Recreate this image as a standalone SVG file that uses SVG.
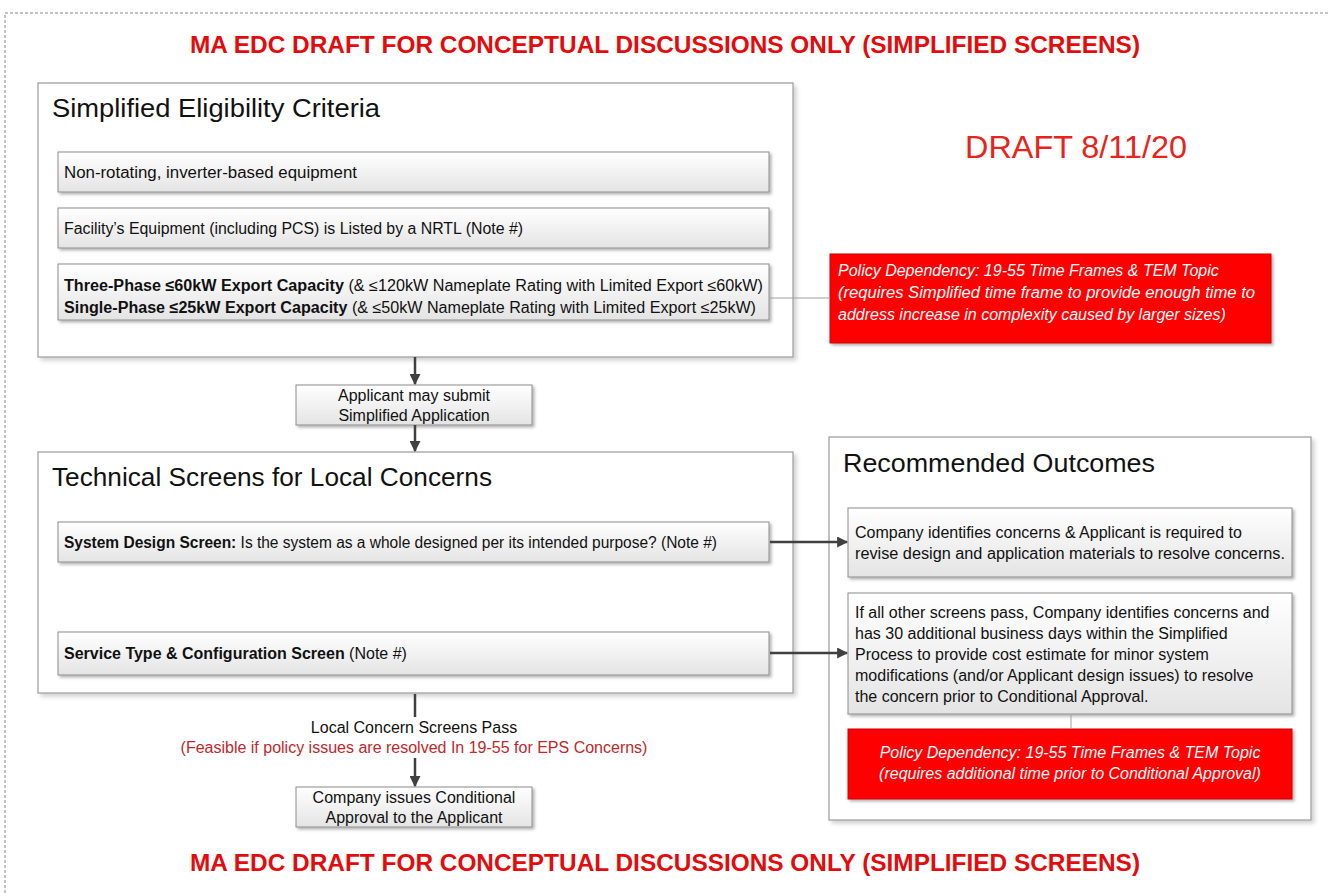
<svg xmlns="http://www.w3.org/2000/svg" width="1329" height="893" viewBox="0 0 1329 893">
<defs>
<linearGradient id="g" x1="0" y1="0" x2="0" y2="1">
<stop offset="0" stop-color="#ffffff"/>
<stop offset="1" stop-color="#e4e4e4"/>
</linearGradient>
<filter id="sh" x="-5%" y="-5%" width="110%" height="130%">
<feDropShadow dx="2" dy="2" stdDeviation="1.5" flood-color="#000" flood-opacity="0.3"/>
</filter>
<filter id="sh2" x="-5%" y="-5%" width="110%" height="110%">
<feDropShadow dx="3" dy="3" stdDeviation="2" flood-color="#000" flood-opacity="0.18"/>
</filter>
<marker id="ah" viewBox="0 0 10 10" refX="9" refY="5" markerWidth="11" markerHeight="11" markerUnits="userSpaceOnUse" orient="auto">
<path d="M0,0 L10,5 L0,10 z" fill="#404040"/>
</marker>
</defs>
<style>
text{font-family:"Liberation Sans",Arial,sans-serif;fill:#111}
.ttl{font-weight:bold;font-size:24px;fill:#e30b0b}
.outer{fill:#fff;stroke:#9a9a9a;stroke-width:1.2;filter:url(#sh2)}
.inner{fill:url(#g);stroke:#8c8c8c;stroke-width:1;filter:url(#sh)}
.red{fill:#ff0000;stroke:#cc0000;stroke-width:1;filter:url(#sh)}
.h{font-size:26px}
.t{font-size:16px}
.c{font-size:16px;text-anchor:middle}
.w{font-size:16px;fill:#fff;font-style:italic}
.b{font-weight:bold}
.arrow{stroke:#404040;stroke-width:2.5;fill:none;marker-end:url(#ah)}
.line{stroke:#404040;stroke-width:2.5;fill:none}
.thin{stroke:#a0a0a0;stroke-width:1;fill:none}
</style>
<path d="M5,893 V13 H1329" fill="none" stroke="#888" stroke-width="1" stroke-dasharray="3,2"/>
<text class="ttl" x="190" y="53" textLength="950" lengthAdjust="spacingAndGlyphs">MA EDC DRAFT FOR CONCEPTUAL DISCUSSIONS ONLY (SIMPLIFIED SCREENS)</text>
<text class="ttl" x="190" y="871" textLength="950" lengthAdjust="spacingAndGlyphs">MA EDC DRAFT FOR CONCEPTUAL DISCUSSIONS ONLY (SIMPLIFIED SCREENS)</text>
<text x="965" y="158" style="font-size:32px;fill:#e8231b" textLength="222" lengthAdjust="spacingAndGlyphs">DRAFT 8/11/20</text>

<g id="eligibility">
<rect class="outer" x="38" y="83" width="755" height="274"/>
<text class="h" x="52" y="117" textLength="328" lengthAdjust="spacingAndGlyphs">Simplified Eligibility Criteria</text>
</g>
<g id="non-rotating">
<rect class="inner" x="58" y="152" width="711" height="40"/>
<text class="t" x="64" y="178" textLength="293" lengthAdjust="spacingAndGlyphs">Non-rotating, inverter-based equipment</text>
</g>
<g id="listed">
<rect class="inner" x="58" y="208" width="711" height="40"/>
<text class="t" x="64" y="234" textLength="459" lengthAdjust="spacingAndGlyphs">Facility’s Equipment (including PCS) is Listed by a NRTL (Note #)</text>
</g>
<g id="capacity">
<rect class="inner" x="58" y="264" width="711" height="56"/>
<text class="t" x="64" y="291" textLength="699" lengthAdjust="spacingAndGlyphs"><tspan class="b">Three-Phase ≤60kW Export Capacity</tspan> (&amp; ≤120kW Nameplate Rating with Limited Export ≤60kW)</text>
<text class="t" x="64" y="313" textLength="692" lengthAdjust="spacingAndGlyphs"><tspan class="b">Single-Phase ≤25kW Export Capacity</tspan> (&amp; ≤50kW Nameplate Rating with Limited Export ≤25kW)</text>
</g>
<g id="policy1">
<rect class="red" x="830" y="254" width="441" height="89"/>
<text class="w" x="838" y="276">Policy Dependency: 19-55 Time Frames &amp; TEM Topic</text>
<text class="w" x="838" y="298" textLength="417" lengthAdjust="spacingAndGlyphs">(requires Simplified time frame to provide enough time to</text>
<text class="w" x="838" y="320">address increase in complexity caused by larger sizes)</text>
</g>
<g id="submit">
<rect class="inner" x="296" y="385" width="236" height="40"/>
<text class="c" x="414" y="401">Applicant may submit</text>
<text class="c" x="414" y="421">Simplified Application</text>
</g>
<g id="technical">
<rect class="outer" x="38" y="452" width="755" height="241"/>
<text class="h" x="52" y="486" textLength="440" lengthAdjust="spacingAndGlyphs">Technical Screens for Local Concerns</text>
</g>
<g id="system-design">
<rect class="inner" x="58" y="522" width="711" height="40"/>
<text class="t" x="64" y="548" textLength="653" lengthAdjust="spacingAndGlyphs"><tspan class="b">System Design Screen:</tspan> Is the system as a whole designed per its intended purpose? (Note #)</text>
</g>
<g id="service-type">
<rect class="inner" x="58" y="632" width="711" height="43"/>
<text class="t" x="64" y="659"><tspan class="b">Service Type &amp; Configuration Screen</tspan> (Note #)</text>
</g>
<g id="outcomes">
<rect class="outer" x="829" y="437" width="482" height="383"/>
<text class="h" x="843" y="472" textLength="312" lengthAdjust="spacingAndGlyphs">Recommended Outcomes</text>
</g>
<g id="outcome1">
<rect class="inner" x="848" y="508" width="444" height="69"/>
<text class="t" x="855" y="538">Company identifies concerns &amp; Applicant is required to</text>
<text class="t" x="855" y="559" textLength="430" lengthAdjust="spacingAndGlyphs">revise design and application materials to resolve concerns.</text>
</g>
<g id="outcome2">
<rect class="inner" x="848" y="593" width="444" height="121"/>
<text class="t" x="855" y="618">If all other screens pass, Company identifies concerns and</text>
<text class="t" x="855" y="639">has 30 additional business days within the Simplified</text>
<text class="t" x="855" y="660">Process to provide cost estimate for minor system</text>
<text class="t" x="855" y="681">modifications (and/or Applicant design issues) to resolve</text>
<text class="t" x="855" y="702">the concern prior to Conditional Approval.</text>
</g>
<g id="policy2">
<rect class="red" x="848" y="729" width="444" height="70"/>
<text class="w" x="1070" y="758" text-anchor="middle">Policy Dependency: 19-55 Time Frames &amp; TEM Topic</text>
<text class="w" x="1070" y="779" text-anchor="middle">(requires additional time prior to Conditional Approval)</text>
</g>
<g id="pass-label">
<text class="c" x="414" y="733">Local Concern Screens Pass</text>
<text class="c" x="414" y="753" style="fill:#c0282a">(Feasible if policy issues are resolved In 19-55 for EPS Concerns)</text>
</g>
<g id="conditional">
<rect class="inner" x="296" y="787" width="236" height="40"/>
<text class="c" x="414" y="803">Company issues Conditional</text>
<text class="c" x="414" y="823">Approval to the Applicant</text>
</g>

<g id="connectors">
<line class="thin" x1="770" y1="298" x2="830" y2="298"/>
<line class="thin" x1="1071" y1="715" x2="1071" y2="729"/>
<line class="arrow" x1="415" y1="357" x2="415" y2="384"/>
<line class="arrow" x1="415" y1="425" x2="415" y2="451"/>
<line class="arrow" x1="770" y1="542" x2="847" y2="542"/>
<line class="arrow" x1="770" y1="653" x2="847" y2="653"/>
<line class="line" x1="415" y1="694" x2="415" y2="717"/>
<line class="arrow" x1="415" y1="758" x2="415" y2="786"/>
</g>
</svg>
